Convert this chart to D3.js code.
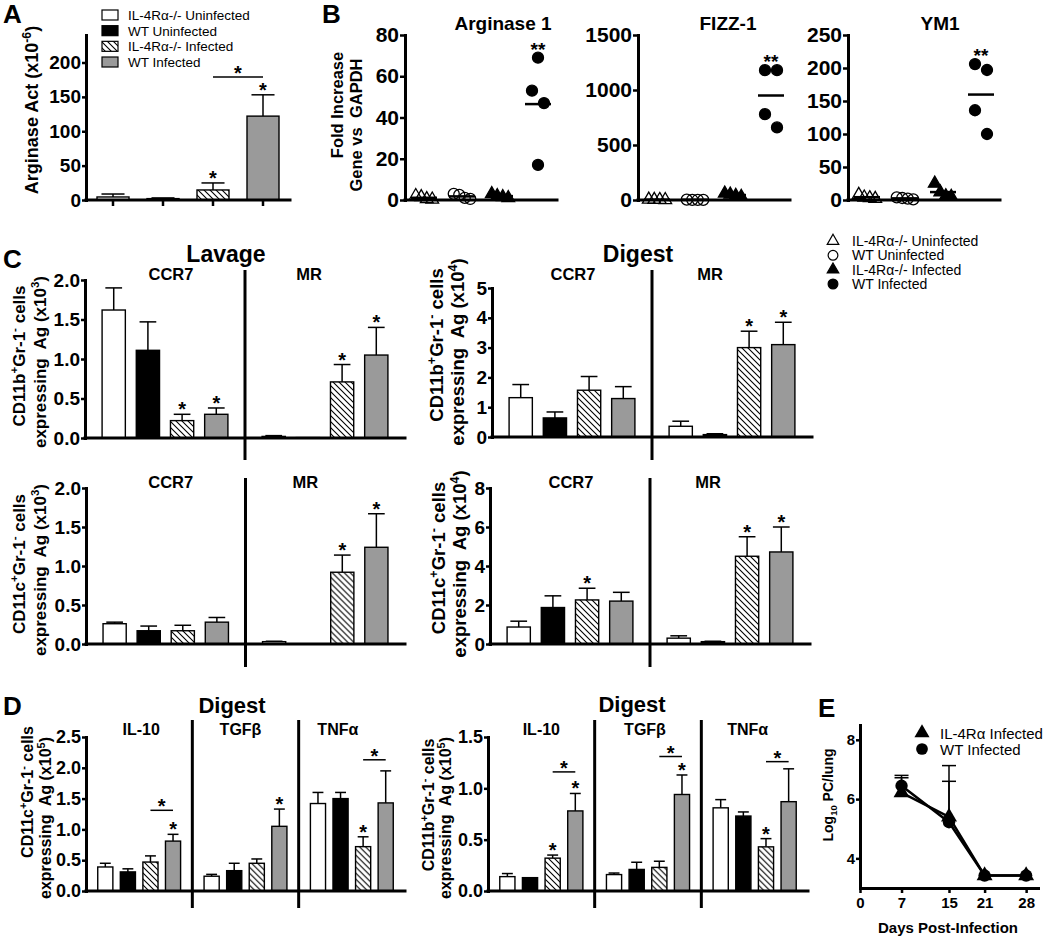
<!DOCTYPE html>
<html>
<head>
<meta charset="utf-8">
<script src="https://cdn.jsdelivr.net/npm/d3@7/dist/d3.min.js"></script>
<style>
  html,body{margin:0;padding:0;background:#fff;}
  svg{display:block;}
</style>
</head>
<body>
<svg id="fig" width="1050" height="938"></svg>
<script>
// ================= DATA =================
const groups = ["IL-4Rα-/- Uninfected", "WT Uninfected", "IL-4Rα-/- Infected", "WT Infected"];

// Panel A – arginase activity
const aMean = [4.4, 2.0, 14.6, 122];
const aSem = [4.3, 1.0, 10.2, 31];
const aStars = ["", "", "*", "*"];
const aBracket = [2, 3, 179];
const aTicks = [0, 50, 100, 150, 200];

// Panel B – qPCR scatter (one array per group)
const bGenes = ["Arginase 1", "FIZZ-1", "YM1"];
const bArg1 = [[2, 1.5, 0.5, 0.3], [3, 2.5, 1, 0.5], [3, 2, 1.5, 1], [69, 53, 47, 17]];
const bFizz1 = [[5, 3, 2, 1], [3, 2, 2, 1], [60, 50, 40, 30], [1180, 1180, 780, 660]];
const bYm1 = [[8, 4, 3, 2], [4, 3, 2, 1], [25, 12, 6, 5], [206, 197, 136, 100]];
const bArg1Ticks = [0, 20, 40, 60, 80];
const bFizz1Ticks = [0, 500, 1000, 1500];
const bYm1Ticks = [0, 50, 100, 150, 200, 250];
const bStars = ["", "", "", "**"];

// Panel C
const cSubsets = ["CCR7", "MR"];
const cLavCD11bCCR7 = [1.62, 1.11, 0.22, 0.30];
const cLavCD11bCCR7Sem = [0.28, 0.36, 0.08, 0.08];
const cLavCD11bCCR7Star = ["", "", "*", "*"];
const cLavCD11bMR = [0.02, 0.005, 0.71, 1.05];
const cLavCD11bMRSem = [0.01, 0, 0.22, 0.35];
const cLavCD11bMRStar = ["", "", "*", "*"];

const cDigCD11bCCR7 = [1.32, 0.64, 1.57, 1.29];
const cDigCD11bCCR7Sem = [0.44, 0.20, 0.46, 0.40];
const cDigCD11bCCR7Star = ["", "", "", ""];
const cDigCD11bMR = [0.36, 0.08, 3.0, 3.1];
const cDigCD11bMRSem = [0.17, 0.03, 0.55, 0.75];
const cDigCD11bMRStar = ["", "", "*", "*"];

const cLavCD11cCCR7 = [0.26, 0.17, 0.17, 0.28];
const cLavCD11cCCR7Sem = [0.02, 0.06, 0.07, 0.06];
const cLavCD11cCCR7Star = ["", "", "", ""];
const cLavCD11cMR = [0.03, 0, 0.92, 1.24];
const cLavCD11cMRSem = [0.005, 0, 0.22, 0.43];
const cLavCD11cMRStar = ["", "", "*", "*"];

const cDigCD11cCCR7 = [0.87, 1.87, 2.26, 2.2];
const cDigCD11cCCR7Sem = [0.30, 0.60, 0.60, 0.45];
const cDigCD11cCCR7Star = ["", "", "*", ""];
const cDigCD11cMR = [0.30, 0.12, 4.5, 4.72];
const cDigCD11cMRSem = [0.12, 0.02, 1.0, 1.28];
const cDigCD11cMRStar = ["", "", "*", "*"];

const cTicks2 = [0, 0.5, 1.0, 1.5, 2.0];
const cTicks5 = [0, 1, 2, 3, 4, 5];
const cTicks8 = [0, 2, 4, 6, 8];

// Panel D
const dCytokines = ["IL-10", "TGFβ", "TNFα"];
const dCD11cIL10 = [0.39, 0.31, 0.47, 0.81];
const dCD11cIL10Sem = [0.06, 0.05, 0.10, 0.11];
const dCD11cIL10Star = ["", "", "", "*"];
const dCD11cIL10Bracket = [2, 3, 1.31];
const dCD11cTGFb = [0.24, 0.33, 0.45, 1.05];
const dCD11cTGFbSem = [0.03, 0.12, 0.07, 0.28];
const dCD11cTGFbStar = ["", "", "", "*"];
const dCD11cTNFa = [1.42, 1.50, 0.72, 1.43];
const dCD11cTNFaSem = [0.18, 0.10, 0.16, 0.52];
const dCD11cTNFaStar = ["", "", "*", ""];
const dCD11cTNFaBracket = [2, 3, 2.13];

const dCD11bIL10 = [0.14, 0.13, 0.32, 0.78];
const dCD11bIL10Sem = [0.03, 0, 0.03, 0.17];
const dCD11bIL10Star = ["", "", "*", "*"];
const dCD11bIL10Bracket = [2, 3, 1.16];
const dCD11bTGFb = [0.16, 0.21, 0.23, 0.94];
const dCD11bTGFbSem = [0.015, 0.07, 0.06, 0.19];
const dCD11bTGFbStar = ["", "", "", "*"];
const dCD11bTGFbBracket = [2, 3, 1.31];
const dCD11bTNFa = [0.81, 0.73, 0.43, 0.87];
const dCD11bTNFaSem = [0.08, 0.04, 0.08, 0.32];
const dCD11bTNFaStar = ["", "", "*", ""];
const dCD11bTNFaBracket = [2, 3, 1.26];

const dTicks25 = [0, 0.5, 1.0, 1.5, 2.0, 2.5];
const dTicks15 = [0, 0.5, 1.0, 1.5];

// Panel E
const eDays = [7, 15, 21, 28];
const eSeries = ["IL-4Rα Infected", "WT Infected"];
const eIL4Ra = [6.22, 5.40, 3.42, 3.42];
const eIL4RaSem = [0.50, 1.73, 0, 0];
const eWT = [6.45, 5.22, 3.42, 3.42];
const eWTSem = [0.35, 1.38, 0, 0];
const eXTicks = [0, 7, 15, 21, 28];
const eYTicks = [4, 6, 8];

// ================= DRAWING =================
const FONT = '"Liberation Sans", Arial, Helvetica, sans-serif';
const FILLS = ["#ffffff", "#000000", "url(#hatch)", "#9a9a9a"];
const svg = d3.select("#fig");
svg.append("rect").attr("width", 1050).attr("height", 938).attr("fill", "#fff");

const defs = svg.append("defs");
const pat = defs.append("pattern").attr("id", "hatch").attr("patternUnits", "userSpaceOnUse")
  .attr("width", 6).attr("height", 6);
pat.append("rect").attr("width", 6).attr("height", 6).attr("fill", "#fff");
pat.append("path").attr("d", "M-1,-1L7,7M-1,5L1,7M5,-1L7,1").attr("stroke", "#000").attr("stroke-width", 1.1);

function rich(t, parts, fs) {
  let shift = 0;
  parts.forEach(([s, m]) => {
    const target = m === "sup" ? -0.4 * fs : m === "sub" ? 0.28 * fs : 0;
    const ts = t.append("tspan").text(s).attr("dy", target - shift);
    if (m) ts.attr("font-size", fs * 0.68);
    shift = target;
  });
}
function txt(g, s, x, y, fs, opts = {}) {
  return g.append("text").attr("x", x).attr("y", y).attr("font-family", FONT)
    .attr("font-size", fs).attr("font-weight", opts.weight || "bold")
    .attr("text-anchor", opts.anchor || "middle").text(s);
}
function yLabel(g, parts, x, cy, fs) {
  const t = g.append("text").attr("transform", `translate(${x},${cy}) rotate(-90)`)
    .attr("text-anchor", "middle").attr("font-family", FONT).attr("font-weight", "bold").attr("font-size", fs);
  rich(t, parts, fs);
}
function styleAxis(ag, fs) {
  ag.attr("font-family", FONT).attr("font-size", fs).attr("font-weight", "bold");
  ag.select(".domain").attr("stroke-width", 3).attr("stroke-linecap", "square");
  ag.selectAll(".tick line").attr("stroke-width", 2.5);
  ag.selectAll(".tick text").attr("fill", "#000");
}

const lblCD11b = [["CD11b", ""], ["+", "sup"], ["Gr-1", ""], ["-", "sup"], [" cells", ""]];
const lblCD11c = [["CD11c", ""], ["+", "sup"], ["Gr-1", ""], ["-", "sup"], [" cells", ""]];
const lblExpr = p => [["expressing\u00a0 Ag (x10", ""], [p, "sup"], [")", ""]];

function barPanel(o) {
  const g = svg.append("g");
  const y = d3.scaleLinear().domain(o.domain).range([o.yZero, o.yTop]);
  const outer = d3.scaleBand().domain(o.subs.map(s => s.name)).range([o.x0, o.x1]);
  const inner = d3.scaleBand().domain(groups).range([0, outer.bandwidth()])
    .paddingInner(o.pi).paddingOuter(o.po);
  const bw = inner.bandwidth();
  o.subs.forEach((s, si) => {
    if (si > 0) {
      g.append("line").attr("x1", outer(s.name)).attr("x2", outer(s.name))
        .attr("y1", o.divTop).attr("y2", o.divBottom).attr("stroke", "#000").attr("stroke-width", 3);
    }
  });
  o.subs.forEach((s, si) => {
    const sg = g.append("g").attr("transform", `translate(${outer(s.name)},0)`);
    const rows = groups.map((gn, i) => ({ gn, i, v: s.values[i], e: s.sem[i], star: s.stars ? s.stars[i] : "" }));
    const cx = d => inner(d.gn) + bw / 2;
    rows.filter(d => d.e > 0).forEach(d => {
      sg.append("line").attr("x1", cx(d)).attr("x2", cx(d)).attr("y1", y(d.v)).attr("y2", y(d.v + d.e))
        .attr("stroke", "#000").attr("stroke-width", 1.5);
      sg.append("line").attr("x1", cx(d) - bw * 0.36).attr("x2", cx(d) + bw * 0.36)
        .attr("y1", y(d.v + d.e)).attr("y2", y(d.v + d.e)).attr("stroke", "#000").attr("stroke-width", 1.5);
    });
    sg.selectAll("rect.bar").data(rows).join("rect").attr("class", "bar")
      .attr("x", d => inner(d.gn)).attr("width", bw)
      .attr("y", d => y(d.v)).attr("height", d => y(0) - y(d.v))
      .attr("fill", d => FILLS[d.i]).attr("stroke", "#000").attr("stroke-width", 1.4);
    rows.filter(d => d.star).forEach(d => {
      txt(sg, d.star, cx(d), y(d.v + d.e) + 2, o.starFs || 20);
    });
    if (s.bracket) {
      const [a, b, lev] = s.bracket;
      const xa = inner(groups[a]) + bw / 2, xb = inner(groups[b]) + bw / 2;
      sg.append("line").attr("x1", xa).attr("x2", xb).attr("y1", y(lev)).attr("y2", y(lev))
        .attr("stroke", "#000").attr("stroke-width", 1.5);
      txt(sg, "*", (xa + xb) / 2, y(lev) + 3, o.starFs || 20);
    }
    if (o.subTitleY) {
      txt(sg, s.name, outer.bandwidth() / 2 + (o.subTitleDx ? o.subTitleDx[si] : 0), o.subTitleY, o.subFs || 16.5);
    }
    if (o.xTicks) {
      rows.forEach(d => sg.append("line").attr("x1", cx(d)).attr("x2", cx(d))
        .attr("y1", o.yZero).attr("y2", o.yZero + 6).attr("stroke", "#000").attr("stroke-width", 2.5));
    }
  });
  const ag = g.append("g").attr("transform", `translate(${o.x0},0)`)
    .call(d3.axisLeft(y).tickValues(o.ticks).tickFormat(o.fmt).tickSize(4).tickSizeOuter(0).tickPadding(1));
  styleAxis(ag, o.tickFs || 19);
  g.append("line").attr("x1", o.x0).attr("x2", o.x1).attr("y1", o.yZero).attr("y2", o.yZero)
    .attr("stroke", "#000").attr("stroke-width", 3).attr("stroke-linecap", "square");
  if (o.title) txt(g, o.title, o.titleX, o.titleY, o.titleFs || 23);
  (o.yLabels || []).forEach(l => yLabel(g, l.parts, l.x, l.cy, o.yLabelFs || 17));
  return { y, outer, inner };
}

// ---------- Panel letters ----------
txt(svg, "A", 3, 23, 26, { anchor: "start" });
txt(svg, "B", 322, 23, 26, { anchor: "start" });
txt(svg, "C", 3, 268, 26, { anchor: "start" });
txt(svg, "D", 3, 715, 26, { anchor: "start" });
txt(svg, "E", 818, 717, 26, { anchor: "start" });

// ---------- Panel A ----------
barPanel({
  x0: 86, x1: 290, yZero: 200, yTop: 35, domain: [0, 240], ticks: aTicks, fmt: d3.format("d"),
  pi: 0.36, po: 0.22, xTicks: true,
  subs: [{ name: "A", values: aMean, sem: aSem, stars: aStars, bracket: aBracket }],
  yLabels: [{ parts: [["Arginase Act (x10", ""], ["-6", "sup"], [")", ""]], x: 38, cy: 110 }],
  yLabelFs: 18, tickFs: 19
});
{
  const lg = svg.append("g");
  const rowsY = d3.scalePoint().domain(groups).range([15, 62]);
  groups.forEach((gn, i) => {
    lg.append("rect").attr("x", 102).attr("y", rowsY(gn) - 5).attr("width", 16).attr("height", 10)
      .attr("fill", FILLS[i]).attr("stroke", "#000").attr("stroke-width", 1.2);
    txt(lg, gn, 128, rowsY(gn) + 5, 13.5, { anchor: "start", weight: "normal" });
  });
}

// ---------- Panel B ----------
const SYM = [d3.symbolTriangle, d3.symbolCircle, d3.symbolTriangle, d3.symbolCircle];
const SYMFILL = ["none", "none", "#000", "#000"];
const SYMSIZE = [70, 95, 70, 95];
function spreadOffsets(vals, y) {
  const idx = vals.map((v, i) => i).sort((a, b) => vals[b] - vals[a]);
  const clusters = []; let cur = [];
  idx.forEach(i => {
    if (cur.length && Math.abs(y(vals[i]) - y(vals[cur[cur.length - 1]])) >= 25) { clusters.push(cur); cur = []; }
    cur.push(i);
  });
  clusters.push(cur);
  const off = new Array(vals.length).fill(0);
  clusters.forEach(c => {
    const step = c.length > 2 ? 5.5 : 12;
    c.forEach((i, k) => off[i] = (k - (c.length - 1) / 2) * step);
  });
  return off;
}
function scatterPanel(o) {
  const g = svg.append("g");
  const y = d3.scaleLinear().domain(o.domain).range([200, 35]);
  const x = d3.scaleBand().domain(groups).range([o.ax, o.ax + 152]);
  groups.forEach((gn, gi) => {
    const vals = o.data[gi];
    const cx = x(gn) + x.bandwidth() / 2;
    const off = spreadOffsets(vals, y);
    vals.forEach((v, k) => {
      g.append("path").attr("d", d3.symbol().type(SYM[gi]).size(SYMSIZE[gi])())
        .attr("transform", `translate(${cx + off[k]},${y(v)})`)
        .attr("fill", SYMFILL[gi]).attr("stroke", "#000").attr("stroke-width", 1.3);
    });
    const m = d3.mean(vals);
    g.append("line").attr("x1", cx - 13).attr("x2", cx + 13).attr("y1", y(m)).attr("y2", y(m))
      .attr("stroke", "#000").attr("stroke-width", 2.5);
    if (o.stars[gi]) txt(g, o.stars[gi], cx, y(d3.max(vals)) - 2, 19);
  });
  const ag = g.append("g").attr("transform", `translate(${o.ax},0)`)
    .call(d3.axisLeft(y).tickValues(o.ticks).tickFormat(d3.format("d")).tickSize(5).tickSizeOuter(0).tickPadding(1));
  styleAxis(ag, 21);
  g.append("line").attr("x1", o.ax).attr("x2", o.ax + 152).attr("y1", 200).attr("y2", 200)
    .attr("stroke", "#000").attr("stroke-width", 3).attr("stroke-linecap", "square");
  txt(g, o.title, o.titleX, 30, 19);
}
scatterPanel({ ax: 405, domain: [0, 80], ticks: bArg1Ticks, data: bArg1, stars: bStars, title: bGenes[0], titleX: 503 });
scatterPanel({ ax: 638, domain: [0, 1500], ticks: bFizz1Ticks, data: bFizz1, stars: bStars, title: bGenes[1], titleX: 728 });
scatterPanel({ ax: 848, domain: [0, 250], ticks: bYm1Ticks, data: bYm1, stars: bStars, title: bGenes[2], titleX: 940 });
txt(svg, "Fold Increase", 0, 0, 16.5).attr("transform", "translate(343,105) rotate(-90)");
txt(svg, "Gene vs\u00a0 GAPDH", 0, 0, 16.5).attr("transform", "translate(362,125) rotate(-90)");
{
  const lg = svg.append("g");
  const rowsY = d3.scalePoint().domain(groups).range([241, 284]);
  groups.forEach((gn, i) => {
    lg.append("path").attr("d", d3.symbol().type(SYM[i]).size(i % 2 ? 75 : 58)())
      .attr("transform", `translate(833,${rowsY(gn)})`)
      .attr("fill", SYMFILL[i]).attr("stroke", "#000").attr("stroke-width", 1.2);
    txt(lg, gn, 852, rowsY(gn) + 5, 14, { anchor: "start", weight: "normal" });
  });
}

// ---------- Panel C ----------
barPanel({
  x0: 85, x1: 405, yZero: 438, yTop: 280, domain: [0, 2], ticks: cTicks2, fmt: d3.format(".1f"),
  pi: 0.32, po: 0.5,
  subs: [
    { name: cSubsets[0], values: cLavCD11bCCR7, sem: cLavCD11bCCR7Sem, stars: cLavCD11bCCR7Star },
    { name: cSubsets[1], values: cLavCD11bMR, sem: cLavCD11bMRSem, stars: cLavCD11bMRStar }],
  subTitleY: 280, subTitleDx: [6, -16], divTop: 270, divBottom: 460,
  title: "Lavage", titleX: 226, titleY: 262,
  yLabels: [{ parts: lblCD11b, x: 25, cy: 356 }, { parts: lblExpr("3"), x: 46, cy: 362 }]
});
barPanel({
  x0: 492, x1: 812, yZero: 437, yTop: 288, domain: [0, 5], ticks: cTicks5, fmt: d3.format("d"),
  pi: 0.32, po: 0.5,
  subs: [
    { name: cSubsets[0], values: cDigCD11bCCR7, sem: cDigCD11bCCR7Sem, stars: cDigCD11bCCR7Star },
    { name: cSubsets[1], values: cDigCD11bMR, sem: cDigCD11bMRSem, stars: cDigCD11bMRStar }],
  subTitleY: 280, subTitleDx: [1, -22], divTop: 270, divBottom: 460,
  title: "Digest", titleX: 638, titleY: 262,
  yLabels: [{ parts: lblCD11b, x: 443, cy: 345 }, { parts: lblExpr("4"), x: 464, cy: 352 }], yLabelFs: 18.5
});
barPanel({
  x0: 86, x1: 405, yZero: 644, yTop: 488, domain: [0, 2], ticks: cTicks2, fmt: d3.format(".1f"),
  pi: 0.32, po: 0.5,
  subs: [
    { name: cSubsets[0], values: cLavCD11cCCR7, sem: cLavCD11cCCR7Sem, stars: cLavCD11cCCR7Star },
    { name: cSubsets[1], values: cLavCD11cMR, sem: cLavCD11cMRSem, stars: cLavCD11cMRStar }],
  subTitleY: 488, subTitleDx: [5, -20], divTop: 478, divBottom: 667,
  yLabels: [{ parts: lblCD11c, x: 25, cy: 564 }, { parts: lblExpr("3"), x: 46, cy: 570 }]
});
barPanel({
  x0: 490, x1: 810, yZero: 644, yTop: 488, domain: [0, 8], ticks: cTicks8, fmt: d3.format("d"),
  pi: 0.32, po: 0.5,
  subs: [
    { name: cSubsets[0], values: cDigCD11cCCR7, sem: cDigCD11cCCR7Sem, stars: cDigCD11cCCR7Star },
    { name: cSubsets[1], values: cDigCD11cMR, sem: cDigCD11cMRSem, stars: cDigCD11cMRStar }],
  subTitleY: 488, subTitleDx: [1, -22], divTop: 478, divBottom: 667,
  yLabels: [{ parts: lblCD11c, x: 445, cy: 558 }, { parts: lblExpr("4"), x: 466, cy: 564 }], yLabelFs: 18.5
});

// ---------- Panel D ----------
barPanel({
  x0: 86, x1: 405, yZero: 891, yTop: 737, domain: [0, 2.5], ticks: dTicks25, fmt: d3.format(".1f"),
  pi: 0.33, po: 0.52, starFs: 20, tickFs: 18,
  subs: [
    { name: dCytokines[0], values: dCD11cIL10, sem: dCD11cIL10Sem, stars: dCD11cIL10Star, bracket: dCD11cIL10Bracket },
    { name: dCytokines[1], values: dCD11cTGFb, sem: dCD11cTGFbSem, stars: dCD11cTGFbStar },
    { name: dCytokines[2], values: dCD11cTNFa, sem: dCD11cTNFaSem, stars: dCD11cTNFaStar, bracket: dCD11cTNFaBracket }],
  subTitleY: 735, subTitleDx: [2, -5, -14], subFs: 16, divTop: 720, divBottom: 908,
  title: "Digest", titleX: 232, titleY: 713, titleFs: 22,
  yLabels: [{ parts: lblCD11c, x: 33, cy: 792 }, { parts: lblExpr("5"), x: 51, cy: 818 }], yLabelFs: 16
});
barPanel({
  x0: 488, x1: 808, yZero: 891, yTop: 737, domain: [0, 1.5], ticks: dTicks15, fmt: d3.format(".1f"),
  pi: 0.33, po: 0.52, starFs: 20, tickFs: 18,
  subs: [
    { name: dCytokines[0], values: dCD11bIL10, sem: dCD11bIL10Sem, stars: dCD11bIL10Star, bracket: dCD11bIL10Bracket },
    { name: dCytokines[1], values: dCD11bTGFb, sem: dCD11bTGFbSem, stars: dCD11bTGFbStar, bracket: dCD11bTGFbBracket },
    { name: dCytokines[2], values: dCD11bTNFa, sem: dCD11bTNFaSem, stars: dCD11bTNFaStar, bracket: dCD11bTNFaBracket }],
  subTitleY: 735, subTitleDx: [0, -3, -7], subFs: 16, divTop: 720, divBottom: 908,
  title: "Digest", titleX: 632, titleY: 712, titleFs: 22,
  yLabels: [{ parts: lblCD11b, x: 434, cy: 805 }, { parts: lblExpr("5"), x: 451, cy: 818 }], yLabelFs: 16
});

// ---------- Panel E ----------
{
  const g = svg.append("g");
  const x = d3.scaleLinear().domain([0, 30]).range([860, 1038]);
  const y = d3.scaleLinear().domain([3, 8.5]).range([888, 725]);
  const series = [
    { name: eSeries[0], vals: eIL4Ra, sem: eIL4RaSem, sym: d3.symbolTriangle, size: 110 },
    { name: eSeries[1], vals: eWT, sem: eWTSem, sym: d3.symbolCircle, size: 120 }];
  const line = d3.line().x(d => x(d[0])).y(d => y(d[1]));
  series.forEach(s => {
    g.append("path").attr("d", line(eDays.map((d, i) => [d, s.vals[i]])))
      .attr("fill", "none").attr("stroke", "#000").attr("stroke-width", 2.5);
  });
  series.forEach(s => {
    eDays.forEach((d, i) => {
      if (s.sem[i] > 0) {
        g.append("line").attr("x1", x(d)).attr("x2", x(d)).attr("y1", y(s.vals[i])).attr("y2", y(s.vals[i] + s.sem[i]))
          .attr("stroke", "#000").attr("stroke-width", 1.5);
        g.append("line").attr("x1", x(d) - 7).attr("x2", x(d) + 7)
          .attr("y1", y(s.vals[i] + s.sem[i])).attr("y2", y(s.vals[i] + s.sem[i]))
          .attr("stroke", "#000").attr("stroke-width", 1.5);
      }
    });
  });
  series.forEach(s => {
    eDays.forEach((d, i) => {
      g.append("path").attr("d", d3.symbol().type(s.sym).size(s.size)())
        .attr("transform", `translate(${x(d)},${y(s.vals[i])})`).attr("fill", "#000");
    });
  });
  const ay = g.append("g").attr("transform", "translate(860,0)")
    .call(d3.axisLeft(y).tickValues(eYTicks).tickFormat(d3.format("d")).tickSize(4).tickSizeOuter(0).tickPadding(1));
  styleAxis(ay, 15);
  const ax = g.append("g").attr("transform", "translate(0,888)")
    .call(d3.axisBottom(x).tickValues(eXTicks).tickFormat(d3.format("d")).tickSize(5).tickSizeOuter(0).tickPadding(4));
  styleAxis(ax, 15);
  txt(g, "Days Post-Infection", 948, 933, 15);
  yLabel(g, [["Log", ""], ["10", "sub"], [" PC/lung", ""]], 833, 795, 14);
  const ly = d3.scalePoint().domain(eSeries).range([733, 749]);
  series.forEach(s => {
    g.append("path").attr("d", d3.symbol().type(s.sym).size(s.size * 0.9)())
      .attr("transform", `translate(922,${ly(s.name)})`).attr("fill", "#000");
    txt(g, s.name, 940, ly(s.name) + 5.5, 15, { anchor: "start", weight: "normal" });
  });
}
</script>
</body>
</html>
